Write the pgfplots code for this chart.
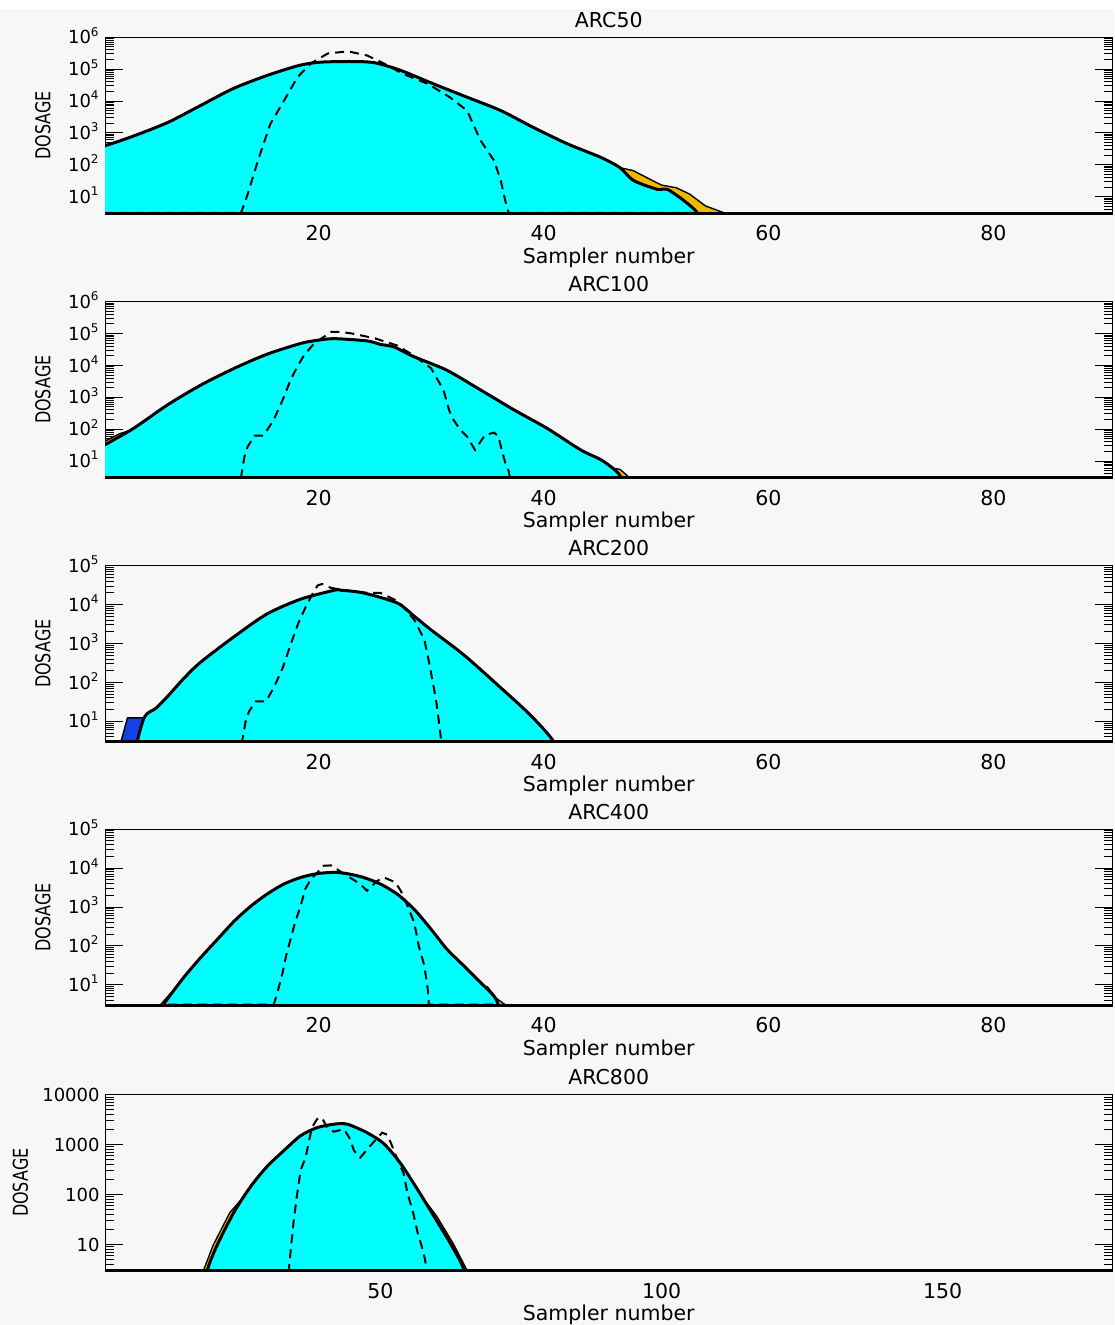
\documentclass[border=0pt]{standalone}
\usepackage{graphicx}
\usepackage{pgfplots}
\pgfplotsset{compat=1.18}
\usepackage{fontspec}
\setmainfont{DejaVu Sans}
\definecolor{bg}{RGB}{247,247,247}
\definecolor{cy}{RGB}{0,255,255}
\definecolor{org}{RGB}{240,184,0}
\definecolor{blu}{RGB}{20,64,232}
\newcommand\myfs{\fontsize{10.25pt}{12pt}\selectfont}
\newcommand\myfsy{\fontsize{9pt}{11pt}\selectfont}
\tikzset{
 cyfill/.style={fill=cy, draw=black, line width=1.5pt, line join=round, smooth, tension=0.45},
 orfill/.style={fill=org, draw=black, line width=0.7pt, line join=round},
 blfill/.style={fill=blu, draw=black, line width=0.7pt, line join=round},
 dsh/.style={black, line width=1pt, dash pattern=on 4.5pt off 3pt},
}
\pgfplotsset{every axis/.append style={
  scale only axis, width=503.75pt, height=88pt, anchor=south west,
  axis line style={line width=0.5pt},
  xtick style={draw=none},
  xticklabel style={anchor=base, inner sep=0pt, yshift=-13.7pt, font=\myfs},
  xlabel={Sampler number},
  xlabel style={at={([yshift=-25pt]axis description cs:0.5,0)}, anchor=base, inner sep=0pt, font=\myfs},
  ylabel={\scalebox{0.78}[1]{DOSAGE}},
  ylabel style={anchor=center, inner sep=0pt, font=\myfs},
  title style={at={([yshift=-1pt]axis description cs:0.5,1)}, anchor=base, inner sep=0pt, font=\myfs},
  major tick length=9pt, minor tick length=4.5pt,
  ytick style={line width=0.5pt, black},
  yticklabel style={font=\myfsy, inner sep=0pt, anchor=base east, xshift=-2.5pt, yshift=-3.3pt},
  after end axis/.code={\draw[line width=1.3pt](rel axis cs:0,0)--(rel axis cs:1,0);},
}}
\begin{document}
\begin{tikzpicture}
\path[use as bounding box, fill=white] (0pt,0pt) rectangle (557pt,-662.5pt);
\fill[bg] (0pt,-4.5pt) rectangle (557pt,-662.5pt);

% ARC50
\begin{axis}[ymode=log, ymin=3, ymax=1000000, xmin=1, xmax=90.6,
  xtick={20,40,60,80}, xticklabels={20,40,60,80},
  ytick={10,100,1000,10000,100000,1000000},
  yticklabels={10\textsuperscript{1},10\textsuperscript{2},10\textsuperscript{3},10\textsuperscript{4},10\textsuperscript{5},10\textsuperscript{6}},
  minor ytick={4,5,6,7,8,9,20,30,40,50,60,70,80,90,200,300,400,500,600,700,800,900,2000,3000,4000,5000,6000,7000,8000,9000,20000,30000,40000,50000,60000,70000,80000,90000,200000,300000,400000,500000,600000,700000,800000,900000},
  ylabel style={at={([xshift=-31pt]axis description cs:0,0.5)}},
  at={(52.5pt,-106.65pt)}, title={ARC50}]
\addplot[orfill] coordinates {(44,1)(44,215)(46.8,81)(48.0,65)(49.4,36)(50.5,23)(51.8,19)(53.0,12)(54.4,5.1)(56.4,2.8)(56.5,1)};
\addplot[cyfill] coordinates {(-6,1)(-2,230)(1,398)(3.6,813)(6.6,2138)(9.5,7244)(12.4,24547)(15.4,63096)(18.3,131826)(20.2,165959)(23,173780)(25,158489)(27.3,91201)(30.2,34674)(33.2,13183)(36.2,5012)(39.1,1479)(42.1,457)(45.1,170)(46.8,81)(48.0,32)(50.1,17)(51.0,17)(52.5,7.4)(53.7,3)(53.8,1)};
\addplot[dsh] coordinates {(1,3.1)(13.1,3.1)(13.7,12.3)(14.6,135)(15.7,1905)(16.9,10000)(18.1,54954)(19.3,151356)(20.8,309030)(22.6,363078)(24.3,269153)(25.8,151356)(27.5,70795)(29.7,34674)(31.7,12882)(33.2,5012)(34.4,575)(35.6,135)(36.2,31.6)(36.6,7.4)(36.9,3.1)(53.7,3.1)};
\end{axis}

% ARC100
\begin{axis}[ymode=log, ymin=3, ymax=1000000, xmin=1, xmax=90.6,
  xtick={20,40,60,80}, xticklabels={20,40,60,80},
  ytick={10,100,1000,10000,100000,1000000},
  yticklabels={10\textsuperscript{1},10\textsuperscript{2},10\textsuperscript{3},10\textsuperscript{4},10\textsuperscript{5},10\textsuperscript{6}},
  minor ytick={4,5,6,7,8,9,20,30,40,50,60,70,80,90,200,300,400,500,600,700,800,900,2000,3000,4000,5000,6000,7000,8000,9000,20000,30000,40000,50000,60000,70000,80000,90000,200000,300000,400000,500000,600000,700000,800000,900000},
  ylabel style={at={([xshift=-31pt]axis description cs:0,0.5)}},
  at={(52.5pt,-238.85pt)}, title={ARC100}]
\addplot[orfill] coordinates {(1,1)(1,42)(2.3,72)(3.4,95)(3.5,1)};
\addplot[orfill] coordinates {(45.5,1)(46.0,6.0)(46.8,5.5)(47.9,2.5)(48,1)};
\addplot[cyfill] coordinates {(-5,1)(-2,8)(1,32.4)(3.56,107)(6.55,575)(9.5,2399)(12.5,8128)(15.4,22387)(18.4,48978)(19.9,61660)(21.4,69183)(24.3,58884)(25.5,45709)(26.7,38019)(28.5,18621)(31.4,7079)(34.4,1698)(37.4,398)(40.3,107)(43.3,22.4)(45.1,11.0)(46.3,5.4)(46.9,3.0)(47.0,1)};
\addplot[dsh] coordinates {(1,3.1)(13.1,3.1)(13.4,13.8)(13.7,28.8)(14.3,63)(15.1,63)(16.0,195)(16.8,832)(17.5,3467)(18.1,9120)(18.7,20893)(19.6,48978)(21.1,112202)(22,112202)(23,100000)(25,70795)(27,42000)(28.5,20000)(30.0,8128)(31.1,1698)(31.6,398)(31.9,219)(32.6,95.5)(33.2,58.9)(33.9,22.4)(34.8,66)(35.6,77.6)(36.0,58.9)(36.2,28.8)(36.6,8.7)(36.9,4.8)(37.0,3.1)(46.9,3.1)};
\end{axis}

% ARC200
\begin{axis}[ymode=log, ymin=3, ymax=100000, xmin=1, xmax=90.6,
  xtick={20,40,60,80}, xticklabels={20,40,60,80},
  ytick={10,100,1000,10000,100000},
  yticklabels={10\textsuperscript{1},10\textsuperscript{2},10\textsuperscript{3},10\textsuperscript{4},10\textsuperscript{5}},
  minor ytick={4,5,6,7,8,9,20,30,40,50,60,70,80,90,200,300,400,500,600,700,800,900,2000,3000,4000,5000,6000,7000,8000,9000,20000,30000,40000,50000,60000,70000,80000,90000},
  ylabel style={at={([xshift=-31pt]axis description cs:0,0.5)}},
  at={(52.5pt,-370.85pt)}, title={ARC200}]
\addplot[blfill] coordinates {(1.96,1)(3.0,12.3)(4.47,12.3)(3.44,1)};
\addplot[cyfill] coordinates {(3.44,1)(4.47,12.3)(5.5,21.4)(6.5,41.7)(8.0,126)(9.5,331)(12.5,1514)(15.4,5754)(18.4,13804)(21.4,23442)(22.0,23442)(24.0,19953)(27.0,10965)(28.5,5012)(30.0,2239)(32.9,513)(35.9,87)(38.8,14.8)(40.9,3.0)(41.0,1)};
\addplot[dsh] coordinates {(3.6,3.1)(13.2,3.1)(13.5,9.8)(13.8,17.8)(14.4,32.4)(15.3,32.4)(16.0,72)(16.8,234)(17.5,933)(18.2,3388)(18.8,8128)(19.4,17783)(19.9,30903)(20.3,33884)(21.1,26915)(22.5,23000)(24.0,20500)(25.5,19953)(27.1,12023)(27.6,8128)(28.5,4074)(29.4,1259)(29.8,347)(30.2,87)(30.5,26.9)(30.8,5.5)(30.9,3.1)(40.8,3.1)};
\end{axis}

% ARC400
\begin{axis}[ymode=log, ymin=3, ymax=100000, xmin=1, xmax=90.6,
  xtick={20,40,60,80}, xticklabels={20,40,60,80},
  ytick={10,100,1000,10000,100000},
  yticklabels={10\textsuperscript{1},10\textsuperscript{2},10\textsuperscript{3},10\textsuperscript{4},10\textsuperscript{5}},
  minor ytick={4,5,6,7,8,9,20,30,40,50,60,70,80,90,200,300,400,500,600,700,800,900,2000,3000,4000,5000,6000,7000,8000,9000,20000,30000,40000,50000,60000,70000,80000,90000},
  ylabel style={at={([xshift=-31pt]axis description cs:0,0.5)}},
  at={(52.5pt,-502.6pt)}, title={ARC400}]
\addplot[orfill] coordinates {(5.8,1)(5.9,3.0)(8.2,17)(8.5,1)};
\addplot[orfill] coordinates {(34.5,1)(35.0,9)(35.8,4.5)(36.8,2.8)(36.9,1)};
\addplot[cyfill] coordinates {(6.2,1)(6.25,3.0)(6.55,4.3)(8.0,15.5)(9.5,50)(11.0,148)(12.5,437)(14.0,1072)(15.4,2138)(16.9,3890)(18.4,5754)(19.9,7244)(21.4,7762)(22.5,7244)(24.0,5754)(25.5,3890)(27.0,2138)(28.5,871)(30.0,269)(31.4,83)(32.9,31)(34.4,11.5)(35.6,5.1)(36.0,2.8)(36.1,1)};
\addplot[dsh] coordinates {(6.6,3.1)(16.0,3.1)(16.3,5.8)(16.8,20.9)(17.1,55)(17.5,148)(17.9,398)(18.4,1072)(18.8,2884)(19.3,5129)(19.9,7762)(20.4,11482)(21.1,11749)(22,8000)(23.7,3890)(24.3,2630)(25.2,4677)(25.8,5754)(26.8,4365)(27.3,2630)(27.9,1072)(28.5,398)(28.9,100)(29.4,31)(29.7,7.8)(29.8,3.1)(35.9,3.1)};
\end{axis}

% ARC800
\begin{axis}[ymode=log, ymin=3, ymax=10000, xmin=1, xmax=180.2,
  xtick={50,100,150}, xticklabels={50,100,150},
  ytick={10,100,1000,10000}, yticklabels={10,100,1000,10000},
  minor ytick={4,5,6,7,8,9,20,30,40,50,60,70,80,90,200,300,400,500,600,700,800,900,2000,3000,4000,5000,6000,7000,8000,9000},
  ylabel style={at={([xshift=-42.25pt]axis description cs:0,0.5)}},
  at={(52.5pt,-635.35pt)}, title={ARC800}]
\addplot[orfill] coordinates {(18.5,1)(18.5,3.0)(20.2,9.5)(23.2,43.7)(26.2,105)(27,1)};
\addplot[orfill] coordinates {(57,1)(57.1,100)(60.0,37)(63.0,10.2)(65.3,3.2)(65.5,1)};
\addplot[cyfill] coordinates {(19.1,1)(19.2,3.0)(20.9,9.5)(23.9,43.7)(26.9,145)(29.8,363)(32.8,759)(35.8,1514)(38.7,2188)(41.7,2570)(44.1,2570)(47.6,1738)(50.6,1047)(53.6,417)(56.6,126)(59.5,37)(62.5,10.2)(64.8,3.2)(65,1)};
\addplot[dsh] coordinates {(19.8,3.1)(33.7,3.1)(34.0,7.1)(34.6,32.4)(35.2,107)(35.8,309)(36.7,562)(37.3,1202)(37.8,2188)(38.7,3236)(39.6,3467)(40.5,2188)(41.7,1820)(43.5,2042)(44.4,1413)(45.3,759)(46.4,550)(48.2,955)(50.3,1738)(51.2,1585)(51.9,1047)(52.7,617)(54.1,269)(54.8,107)(55.8,43.7)(56.6,17.4)(57.3,9.5)(57.9,5.2)(58.2,3.1)(64.5,3.1)};
\end{axis}
\end{tikzpicture}
\end{document}
